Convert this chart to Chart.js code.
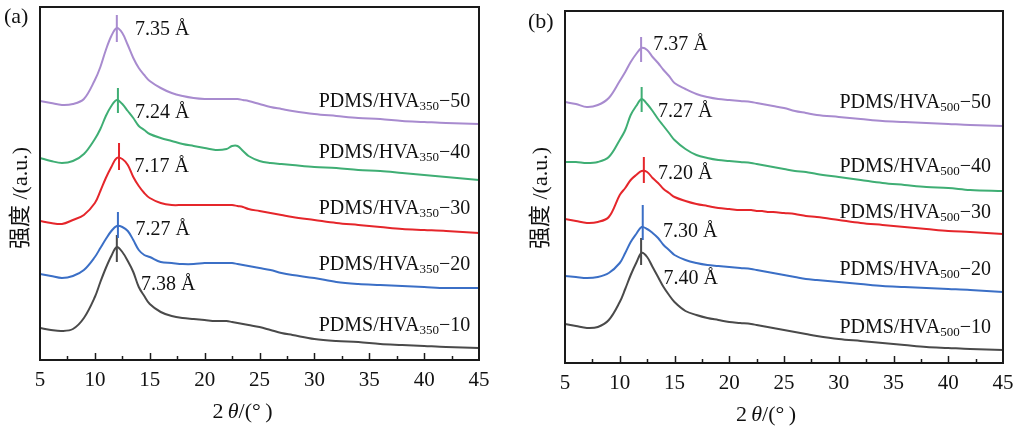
<!DOCTYPE html>
<html>
<head>
<meta charset="utf-8">
<script src="https://cdn.jsdelivr.net/npm/chart.js@4.4.1/dist/chart.umd.min.js"></script>
<style>
  html, body { margin: 0; padding: 0; background: #fff; }
  #wrap { position: relative; width: 1022px; height: 429px; }
  .panel { position: absolute; top: 0; width: 511px; height: 429px; }
</style>
</head>
<body>
<div id="wrap">
  <div class="panel" style="left:0"><canvas id="chartA" width="511" height="429"></canvas></div>
  <div class="panel" style="left:511px"><canvas id="chartB" width="511" height="429"></canvas></div>
</div>
<script>
// 2θ sample points (degrees), shared by all curves
const twoTheta = [5, 6, 7, 8, 9, 10, 10.5, 11, 11.5, 12, 12.5, 13, 13.5, 14, 14.5, 15,
  16, 17, 18, 19, 20, 21, 22, 22.5, 23, 23.5, 24, 25, 26, 27, 28, 30, 32, 34, 36, 38, 40, 42, 45];
const xTicks = [5, 10, 15, 20, 25, 30, 35, 40, 45];

// panel (a): PDMS/HVA350, stacked intensity (a.u.)
const a50 = [259, 257, 255, 256, 261, 280, 293, 310, 324, 332, 327, 315, 302, 292, 285, 279,
  272, 267, 264, 262, 261, 261, 261, 261, 261, 260, 259, 256, 253, 251, 249, 246, 244, 242, 241, 239, 238, 237, 236];
const a40 = [202, 199, 197, 199, 206, 221, 231, 244, 254, 260, 256, 249, 242, 234, 230, 226,
  222, 219, 216, 214, 212, 210, 211, 214, 214, 209, 204, 199, 197, 196, 195, 193, 192, 190, 189, 187, 185, 183, 180];
const a30 = [139, 137, 136, 140, 145, 157, 169, 182, 193, 202, 201, 195, 183, 174, 167, 162,
  157, 155, 155, 155, 155, 155, 155, 155, 154, 153, 151, 149, 147, 145, 143, 140, 137, 135, 133, 131, 130, 129, 127];
const a20 = [86, 84, 82, 84, 90, 103, 112, 121, 129, 134, 133, 129, 120, 110, 105, 103,
  98, 97, 96, 96, 97, 97, 97, 97, 96, 95, 94, 92, 90, 87, 85, 82, 78, 76, 75, 74, 73, 72, 72];
const a10 = [32, 30, 29, 31, 42, 63, 78, 92, 104, 113, 108, 99, 88, 73, 64, 56,
  48, 44, 42, 41, 40, 39, 39, 38, 37, 36, 35, 33, 30, 27, 25, 21, 19, 18, 16, 15, 14, 13, 12];

// panel (b): PDMS/HVA500
const b50 = [261, 259, 256, 258, 265, 282, 291, 301, 309, 315, 313, 306, 300, 293, 287, 280,
  274, 269, 266, 264, 263, 262, 261, 260, 259, 258, 257, 255, 252, 250, 248, 246, 244, 242, 241, 240, 239, 238, 237];
const b40 = [201, 201, 200, 201, 206, 223, 233, 248, 257, 264, 259, 252, 244, 237, 230, 223,
  214, 208, 205, 203, 202, 201, 200, 199, 198, 197, 196, 194, 192, 191, 189, 186, 183, 180, 178, 176, 175, 173, 172];
const b30 = [144, 142, 140, 141, 146, 168, 175, 183, 188, 192, 191, 185, 180, 174, 170, 166,
  162, 159, 157, 155, 154, 153, 153, 152, 152, 151, 151, 150, 149, 147, 146, 143, 140, 138, 136, 134, 132, 131, 129];
const b20 = [87, 86, 85, 86, 90, 100, 110, 121, 129, 136, 134, 130, 125, 118, 113, 108,
  103, 100, 98, 97, 96, 95, 94, 93, 92, 91, 90, 88, 86, 84, 83, 81, 79, 77, 76, 75, 74, 73, 71];
const b10 = [39, 37, 35, 36, 43, 61, 74, 88, 100, 110, 106, 96, 86, 76, 68, 61,
  52, 48, 45, 43, 41, 40, 39, 38, 37, 36, 35, 33, 31, 29, 27, 24, 22, 20, 18, 16, 15, 14, 13];

// peak markers: position, top and bottom of the tick line
const peakA = [12.0, 12.1, 12.2, 12.1, 12.0];
const markTopA = [345, 272, 217, 148, 125];
const markBotA = [318, 247, 190, 122, 98];
const peakB = [11.95, 12.0, 12.2, 12.1, 11.95];
const markTopB = [326, 276, 206, 158, 125];
const markBotB = [301, 251, 180, 123, 98];

// d-spacings
const dA = ['7.35', '7.24', '7.17', '7.27', '7.38'];
const dB = ['7.37', '7.27', '7.20', '7.30', '7.40'];

const loadings = ['50', '40', '30', '20', '10'];
const colors = ['#a88bcf', '#3fae74', '#e5262b', '#3b6fc6', '#4a4a4a'];

const SERIF = '"Liberation Serif", "Times New Roman", serif';

function lineSet(vals, color) {
  return {
    data: twoTheta.map((t, i) => ({ x: t, y: vals[i] })),
    borderColor: color, borderWidth: 2, pointRadius: 0, tension: 0.35, fill: false
  };
}
function markSet(x, top, bot, color) {
  return {
    data: [{ x: x, y: top }, { x: x, y: bot }],
    borderColor: color, borderWidth: 2, pointRadius: 0, fill: false
  };
}

const decor = {
  id: 'decor',
  afterDraw(chart, args, o) {
    const ctx = chart.ctx, a = chart.chartArea;
    const xs = chart.scales.x, ys = chart.scales.y;
    ctx.save();
    // frame
    ctx.strokeStyle = '#1a1a1a';
    ctx.lineWidth = 2;
    ctx.strokeRect(a.left, a.top, a.right - a.left, a.bottom - a.top);
    // inward ticks on bottom axis
    ctx.lineWidth = 1.5;
    for (let t = 7.5; t < 45; t += 2.5) {
      const px = Math.round(xs.getPixelForValue(t)) + 0.5;
      const len = (t % 5 === 0) ? 7 : 4;
      ctx.beginPath();
      ctx.moveTo(px, a.bottom);
      ctx.lineTo(px, a.bottom - len);
      ctx.stroke();
    }
    ctx.fillStyle = '#111';
    ctx.textBaseline = 'middle';
    // d-spacing labels
    ctx.font = '20px ' + SERIF;
    ctx.textAlign = 'left';
    o.peakText.forEach((p, i) => {
      ctx.fillText(o.d[i] + ' \u00C5', xs.getPixelForValue(p[0]), ys.getPixelForValue(p[1]));
    });
    // sample labels with subscript
    o.sampleY.forEach((v, i) => {
      const right = xs.getPixelForValue(o.sampleX);
      const y = ys.getPixelForValue(v);
      const main = 'PDMS/HVA', sub = o.sub, tail = '\u2212' + loadings[i];
      ctx.font = '20px ' + SERIF;
      const w1 = ctx.measureText(main).width, w3 = ctx.measureText(tail).width;
      ctx.font = '13px ' + SERIF;
      const w2 = ctx.measureText(sub).width;
      let x = right - w1 - w2 - w3;
      ctx.font = '20px ' + SERIF;
      ctx.fillText(main, x, y);
      ctx.font = '13px ' + SERIF;
      ctx.fillText(sub, x + w1, y + 5);
      ctx.font = '20px ' + SERIF;
      ctx.fillText(tail, x + w1 + w2, y);
    });
    // panel letter
    ctx.font = '22px ' + SERIF;
    ctx.fillText(o.letter, o.letterPos[0], o.letterPos[1]);
    // x title: 2θ/(°)
    const parts = [['2', '22px '], ['\u2009', '22px '], ['\u03B8', 'italic 22px '], ['/(', '22px '], ['\u00B0', '22px '], ['\u2009)', '22px ']];
    let tw = 0;
    parts.forEach(p => { ctx.font = p[1] + SERIF; tw += ctx.measureText(p[0]).width; });
    let tx = (a.left + a.right) / 2 + o.titleShift - tw / 2;
    parts.forEach(p => { ctx.font = p[1] + SERIF; ctx.fillText(p[0], tx, a.bottom + 52); tx += ctx.measureText(p[0]).width; });
    // y title
    ctx.translate(a.left - o.yTitleGap, 198);
    ctx.rotate(-Math.PI / 2);
    ctx.textAlign = 'center';
    ctx.font = '22px ' + SERIF + ', "Noto Sans CJK SC"';
    ctx.fillText('\u5F3A\u5EA6 /(a.u.)', 0, 0);
    ctx.restore();
  }
};

function makeChart(id, series, peaks, tops, bots, cfg) {
  const datasets = series.map((s, i) => lineSet(s, colors[i]))
    .concat(peaks.map((p, i) => markSet(p, tops[i], bots[i], colors[i])));
  return new Chart(document.getElementById(id), {
    type: 'line',
    data: { datasets: datasets },
    options: {
      responsive: false,
      animation: false,
      layout: { padding: cfg.padding },
      plugins: { legend: { display: false }, tooltip: { enabled: false }, decor: cfg.decor },
      scales: {
        x: {
          type: 'linear', min: 5, max: 45,
          afterBuildTicks: s => { s.ticks = xTicks.map(v => ({ value: v })); },
          afterFit: s => { s.height = 30; },
          grid: { display: false, drawTicks: false },
          border: { display: false },
          ticks: { color: '#111', font: { family: SERIF, size: 21 }, padding: 8, maxRotation: 0 }
        },
        y: { display: false, min: 0, max: cfg.ymax }
      }
    },
    plugins: [decor]
  });
}

makeChart('chartA', [a50, a40, a30, a20, a10], peakA, markTopA, markBotA, {
  padding: { left: 40, right: 32, top: 7, bottom: 39 },
  ymax: 353,
  decor: {
    d: dA, sub: '350', letter: '(a)', letterPos: [4, 17],
    peakText: [[13.65, 330], [13.65, 247], [13.6, 193], [13.7, 130], [14.2, 75]],
    sampleX: 44.2, sampleY: [258, 207, 151, 95, 34],
    titleShift: -17, yTitleGap: 19
  }
});

makeChart('chartB', [b50, b40, b30, b20, b10], peakB, markTopB, markBotB, {
  padding: { left: 54, right: 19, top: 11, bottom: 36 },
  ymax: 352,
  decor: {
    d: dB, sub: '500', letter: '(b)', letterPos: [17, 22],
    peakText: [[13.05, 318], [13.5, 251], [13.5, 189], [13.95, 131], [14.0, 84]],
    sampleX: 43.9, sampleY: [260, 196, 150, 93, 35],
    titleShift: -18, yTitleGap: 24
  }
});
</script>
</body>
</html>
